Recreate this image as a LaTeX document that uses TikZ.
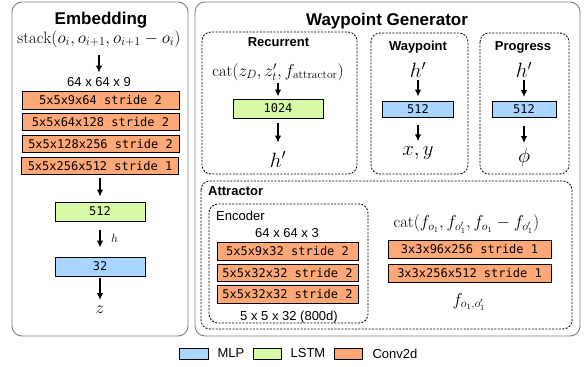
\documentclass[tikz,border=0pt]{standalone}
\usepackage{fontspec}
\usepackage{amsmath}
\usepackage{tikz}
\usetikzlibrary{positioning,arrows.meta}
\newfontfamily\hvfont{Liberation Sans}
\newfontfamily\monofont{DejaVu Sans Mono}
\definecolor{mlpblue}{HTML}{A9D5FF}
\definecolor{lstmgreen}{HTML}{D8FAA6}
\definecolor{convorange}{HTML}{FFA877}
\definecolor{panelgray}{HTML}{7F7F7F}

\begin{document}
\begin{tikzpicture}[x=1pt,y=-1pt,
    panel/.style={draw=panelgray,line width=0.9pt,rounded corners=10pt},
    group/.style={draw,line width=0.8pt,dash pattern=on 2pt off 1.4pt,rounded corners=9pt},
    title/.style={font=\hvfont\bfseries\fontsize{17}{20}\selectfont,anchor=base,inner sep=0pt},
    head/.style={font=\hvfont\bfseries\fontsize{13}{15}\selectfont,anchor=base,inner sep=0pt},
    plain/.style={font=\hvfont\fontsize{13}{15}\selectfont,anchor=base,inner sep=0pt},
    layer/.style={draw,line width=0.8pt,inner sep=0pt,font=\monofont\fontsize{12}{14}\selectfont},
    conv/.style={layer,fill=convorange},
    lstm/.style={layer,fill=lstmgreen},
    mlp/.style={layer,fill=mlpblue},
    eq/.style={font=\fontsize{16.5}{19}\selectfont,inner sep=0pt},
    outlbl/.style={font=\fontsize{20}{24}\selectfont,inner sep=0pt},
    arr/.style={->,>={Latex[length=7pt,width=6.5pt]},line width=1.5pt}]
        \useasboundingbox (0,0) rectangle (585,366);
        % Panels
        \draw[panel] (12,2) rectangle (188,336); % Embedding
        \draw[panel] (195,2) rectangle (580,336); % Waypoint Generator
        \draw[group] (202,32) rectangle (357,174); % Recurrent
        \draw[group] (371,33) rectangle (468,174); % Waypoint
        \draw[group] (480,33) rectangle (569,174); % Progress
        \draw[group] (201,181) rectangle (572,329); % Attractor
        \draw[group] (209,204) rectangle (368,323); % Encoder
        % Embedding
        \node[title] (E_title) at (101,25) {Embedding};
        \node[eq] (E_stack) at (99,39) {$\mathrm{stack}(o_i,o_{i+1},o_{i+1}-o_i)$};
        \node[plain] (E_dims) at (99,87) {64 x 64 x 9};
        \node[conv,minimum width=157pt,minimum height=17.5pt] (E_c1) at (100.5,100.5) {5x5x9x64 stride 2};
        \node[conv,minimum width=157pt,minimum height=17.5pt] (E_c2) at (100.5,122) {5x5x64x128 stride 2};
        \node[conv,minimum width=157pt,minimum height=17.5pt] (E_c3) at (100.5,144) {5x5x128x256 stride 2};
        \node[conv,minimum width=157pt,minimum height=17.5pt] (E_c4) at (100,166) {5x5x256x512 stride 1};
        \node[lstm,minimum width=90pt,minimum height=19pt] (E_lstm) at (100,211.5) {512};
        \node[mlp,minimum width=90pt,minimum height=19pt] (E_mlp) at (100,266.5) {32};
        \node[font=\fontsize{13}{15}\selectfont,anchor=west,inner sep=0pt] (E_h) at (111,238) {$h$};
        \node[font=\fontsize{18}{21}\selectfont,inner sep=0pt] (E_z) at (100,310) {$z$};
        \draw[arr,shorten <=7pt,shorten >=5pt] (E_stack) -- (E_dims);
        \draw[arr,shorten <=3pt,shorten >=5pt] (E_c4) -- (E_lstm);
        \draw[arr,shorten <=9pt,shorten >=9pt] (E_lstm) -- (E_mlp);
        \draw[arr,shorten <=2pt,shorten >=6pt] (E_mlp) -- (E_z);
        % Waypoint Generator
        \node[title] (G_title) at (387,26) {Waypoint Generator};
        % Recurrent
        \node[head] (R_title) at (278.5,47) {Recurrent};
        \node[eq] (R_cat) at (278,72) {$\mathrm{cat}(z_D,z'_t,f_{\mathrm{attractor}})$};
        \node[lstm,minimum width=90pt,minimum height=19pt] (R_lstm) at (278,108.5) {1024};
        \node[outlbl] (R_h) at (278,159.5) {$h'$};
        \draw[arr,shorten <=2pt,shorten >=2pt] (R_cat) -- (R_lstm);
        \draw[arr,shorten <=5pt,shorten >=9pt] (R_lstm) -- (R_h);
        % Waypoint
        \node[head] (W_title) at (418,51) {Waypoint};
        \node[outlbl] (W_h) at (418,70) {$h'$};
        \node[mlp,minimum width=71pt,minimum height=16pt] (W_mlp) at (418,109) {512};
        \node[outlbl] (W_xy) at (418,153) {$x,y$};
        \draw[arr,shorten <=2pt,shorten >=4pt] (W_h) -- (W_mlp);
        \draw[arr,shorten <=8pt,shorten >=5pt] (W_mlp) -- (W_xy);
        % Progress
        \node[head] (P_title) at (523,51) {Progress};
        \node[outlbl] (P_h) at (524,70) {$h'$};
        \node[mlp,minimum width=64pt,minimum height=16pt] (P_mlp) at (524,109.5) {512};
        \node[outlbl] (P_phi) at (524,157.5) {$\phi$};
        \draw[arr,shorten <=2pt,shorten >=4pt] (P_h) -- (P_mlp);
        \draw[arr,shorten <=8pt,shorten >=5pt] (P_mlp) -- (P_phi);
        % Attractor
        \node[head,anchor=base west] (A_title) at (208,195) {Attractor};
        \node[plain,anchor=base west] (A_enc) at (216,220) {Encoder};
        \node[plain] (A_dims) at (287,237) {64 x 64 x 3};
        \node[conv,minimum width=141pt,minimum height=17.5pt] (A_c1) at (287.5,251.5) {5x5x9x32 stride 2};
        \node[conv,minimum width=141pt,minimum height=17.5pt] (A_c2) at (287.5,273) {5x5x32x32 stride 2};
        \node[conv,minimum width=141pt,minimum height=17.5pt] (A_c3) at (287.5,294.5) {5x5x32x32 stride 2};
        \node[plain] (A_out) at (289,320) {5 x 5 x 32 (800d)};
        \node[eq] (A_cat) at (466.5,224) {$\mathrm{cat}(f_{o_1},f_{o'_1},f_{o_1}-f_{o'_1})$};
        \node[conv,minimum width=163pt,minimum height=18pt] (A_c4) at (469.5,249) {3x3x96x256 stride 1};
        \node[conv,minimum width=163pt,minimum height=18pt] (A_c5) at (469.5,273) {3x3x256x512 stride 1};
        \node[font=\fontsize{17}{20}\selectfont,inner sep=0pt] (A_f) at (469,302) {$f_{o_1,o'_1}$};
        % Legend
        \node[mlp,minimum width=29pt,minimum height=11pt] (L_mlp) at (193.5,353.5) {};
        \node[plain,anchor=west,right=9pt of L_mlp] (L_mlpT) {MLP};
        \node[lstm,minimum width=28pt,minimum height=11pt] (L_lstm) at (267,353.5) {};
        \node[plain,anchor=west,right=9pt of L_lstm] (L_lstmT) {LSTM};
        \node[conv,minimum width=28pt,minimum height=11pt] (L_conv) at (348,353.5) {};
        \node[plain,anchor=west,right=10pt of L_conv] (L_convT) {Conv2d};
\end{tikzpicture}
\end{document}
